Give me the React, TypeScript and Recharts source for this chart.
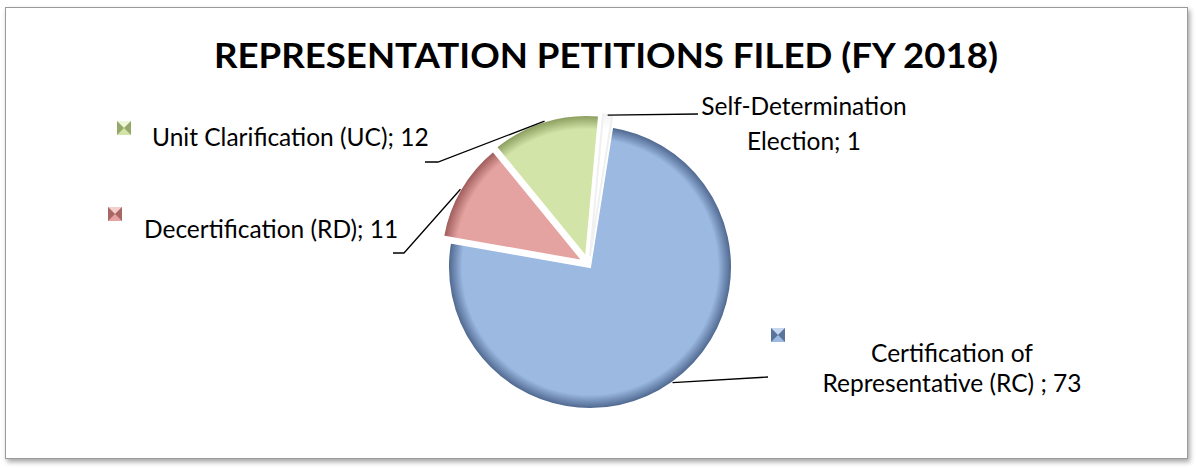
import React from "react";
import { Cell, Pie, PieChart } from "recharts";

const categories = [
    "Certification of Representative (RC)",
    "Decertification (RD)",
    "Unit Clarification (UC)",
    "Self-Determination Election",
];
const values = [73, 11, 12, 1];

// label text as drawn on the chart, the value gets appended to the last line
const labelLines = [
    ["Certification of", "Representative (RC) ;"],
    ["Decertification (RD);"],
    ["Unit Clarification (UC);"],
    ["Self-Determination", "Election;"],
];

const data = categories.map((name, i) => ({ name, value: values[i] }));

const palette = [
    { base: "#9bb9e1", dark: "#4a628a", light: "#c4d6f0" },
    { base: "#e4a3a1", dark: "#9a5755", light: "#f3cfce" },
    { base: "#d3e4a8", dark: "#86995a", light: "#eef6d8" },
    { base: "#ffffff", dark: "#f4f4f4", light: "#ffffff" },
];

// exploded slice centres, label boxes and leader lines
const layout = [
    {
        cx: 590, cy: 267,
        text: { x: 952, ys: [362, 392], anchor: "middle" },
        marker: { x: 771, y: 328 },
        leader: [[768, 377]],
    },
    {
        cx: 583, cy: 261,
        text: { x: 144, ys: [238], anchor: "start" },
        marker: { x: 108, y: 207 },
        leader: [[404, 253], [393, 253]],
    },
    {
        cx: 586, cy: 257,
        text: { x: 152, ys: [146], anchor: "start" },
        marker: { x: 117, y: 121 },
        leader: [[438, 162], [425, 162]],
    },
    {
        cx: 590, cy: 256,
        text: { x: 804, ys: [115, 150], anchor: "middle" },
        marker: null,
        leader: [[698, 114]],
    },
];

const RADIUS = 142;
const RAD = Math.PI / 180;
const FONT = "Lato, 'Open Sans', sans-serif";

const Marker = ({ x, y, c }: { x: number; y: number; c: typeof palette[0] }) => {
    const s = 14;
    return (
        <g>
            <rect x={x} y={y} width={s} height={s} fill={c.base} />
            <polygon points={`${x},${y} ${x + s},${y} ${x + s / 2},${y + s / 2}`} fill={c.light} />
            <polygon points={`${x},${y} ${x + s / 2},${y + s / 2} ${x},${y + s}`} fill={c.dark} opacity={0.8} />
            <polygon points={`${x + s},${y} ${x + s / 2},${y + s / 2} ${x + s},${y + s}`} fill={c.dark} opacity={0.8} />
        </g>
    );
};

const makeLabel = (slice: number) => (props: any) => {
    const { cx, cy, midAngle, outerRadius, index, value } = props;
    if (index !== slice) return null;
    const l = layout[slice];
    const sx = cx + outerRadius * Math.cos(-midAngle * RAD);
    const sy = cy + outerRadius * Math.sin(-midAngle * RAD);
    const pts = [[sx, sy], ...l.leader].map((p) => p.join(",")).join(" ");
    const lines = labelLines[slice].map((t, k, arr) =>
        k === arr.length - 1 ? `${t} ${value}` : t
    );
    return (
        <g>
            <polyline points={pts} fill="none" stroke="#000" strokeWidth={1.3} />
            {l.marker && <Marker x={l.marker.x} y={l.marker.y} c={palette[slice]} />}
            {lines.map((t, k) => (
                <text
                    key={k}
                    x={l.text.x}
                    y={l.text.ys[k]}
                    textAnchor={l.text.anchor as any}
                    fontFamily={FONT}
                    fontSize={24.5}
                    fill="#000"
                >
                    {t}
                </text>
            ))}
        </g>
    );
};

export default function App() {
    return (
        <div style={{ position: "absolute", left: 0, top: 0, width: 1196, height: 468, background: "#fff" }}>
            <svg width={1196} height={468} style={{ position: "absolute", left: 0, top: 0 }}>
                <defs>
                    <filter id="frameShadow" x="-2%" y="-2%" width="104%" height="106%">
                        <feDropShadow dx="2" dy="3" stdDeviation="2.5" floodColor="#000" floodOpacity="0.35" />
                    </filter>
                </defs>
                <rect x={5.5} y={7.5} width={1182} height={451} fill="#fff" stroke="#9a9a9a" filter="url(#frameShadow)" />
                <text
                    x={606}
                    y={68}
                    textAnchor="middle"
                    fontFamily={FONT}
                    fontWeight={700}
                    fontSize={35}
                    textLength={784}
                    lengthAdjust="spacingAndGlyphs"
                    fill="#000"
                >
                    REPRESENTATION PETITIONS FILED (FY 2018)
                </text>
            </svg>
            <div style={{ position: "absolute", left: 0, top: 0 }}>
                <PieChart width={1196} height={468} margin={{ top: 0, right: 0, bottom: 0, left: 0 }}>
                    <defs>
                        {palette.map((c, i) => (
                            <radialGradient
                                key={i}
                                id={`bevel${i}`}
                                gradientUnits="userSpaceOnUse"
                                cx={layout[i].cx}
                                cy={layout[i].cy}
                                r={RADIUS}
                            >
                                <stop offset="0%" stopColor={c.base} />
                                <stop offset="90%" stopColor={c.base} />
                                <stop offset="100%" stopColor={c.dark} />
                            </radialGradient>
                        ))}
                    </defs>
                    {layout.map((l, i) => (
                        <Pie
                            key={i}
                            data={data}
                            dataKey="value"
                            nameKey="name"
                            cx={l.cx}
                            cy={l.cy}
                            outerRadius={RADIUS}
                            startAngle={81}
                            endAngle={-279}
                            label={makeLabel(i)}
                            labelLine={false}
                            isAnimationActive={false}
                        >
                            {data.map((_, j) => (
                                <Cell
                                    key={j}
                                    fill={j === i ? `url(#bevel${i})` : "none"}
                                    stroke={j === i ? (i === 3 ? "#f0f0f0" : "#ffffff") : "none"}
                                    strokeWidth={j === i ? 2 : 0}
                                />
                            ))}
                        </Pie>
                    ))}
                </PieChart>
            </div>
        </div>
    );
}
